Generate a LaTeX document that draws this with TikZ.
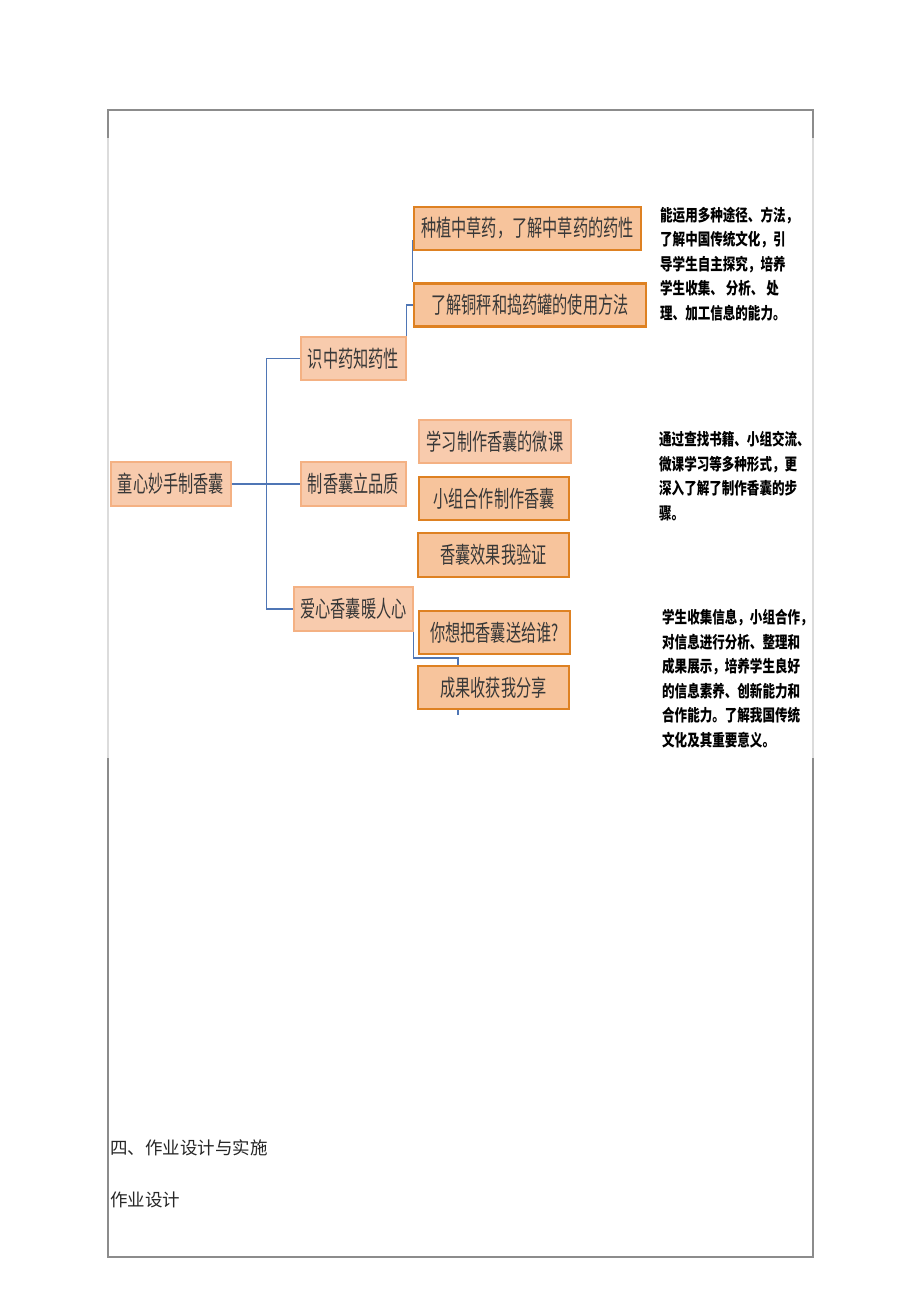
\documentclass[tikz,border=0pt]{standalone}
\usepackage{fontspec}
\usetikzlibrary{backgrounds}
\newfontfamily\boxcjk{Noto Sans CJK SC}[FakeStretch=0.66]
\newfontfamily\notecjk{Noto Sans CJK SC}[FakeStretch=0.76]
\newfontfamily\plaincjk{Noto Sans CJK SC}
\definecolor{peach}{HTML}{F8CBAD}
\definecolor{peachdk}{HTML}{F7C49C}
\definecolor{peachedge}{HTML}{F4B183}
\definecolor{orangeedge}{HTML}{DE8122}
\definecolor{linkblue}{HTML}{4F76B5}
\definecolor{framegray}{HTML}{8C8C8C}
\definecolor{framelight}{HTML}{DCDCDC}
\definecolor{txt}{HTML}{383838}
\tikzset{
  x=1pt,y=-1pt,
  boxbase/.style={rectangle,inner sep=0pt,text=txt,
    font={\boxcjk\fontsize{23}{26}\selectfont}},
  lightbox/.style={boxbase,fill=peach,draw=peachedge,line width=1.4pt},
  darkbox/.style={boxbase,fill=peachdk,draw=orangeedge,line width=2.6pt},
  link/.style={draw=linkblue,line width=1.5pt},
  note/.style={anchor=west,inner sep=0pt,align=left,text=black,
    font={\notecjk\bfseries\fontsize{16.5}{24.5}\selectfont}},
  plain/.style={anchor=west,inner sep=0pt,text=black!85,
    font={\plaincjk\fontsize{17.5}{20}\selectfont}},
}
\begin{document}
\begin{tikzpicture}
\useasboundingbox (0,0) rectangle (920,1302);
\begin{scope}[on background layer]
\fill[white] (0,0) rectangle (920,1302);
\end{scope}
% frame
\draw[framegray,line width=1.4pt] (108,110) -- (813,110);
\draw[framegray,line width=1.4pt] (108,1257) -- (813,1257);
\draw[framegray,line width=1.4pt] (108,109.3) -- (108,138);
\draw[framelight,line width=1.4pt] (108,138) -- (108,758);
\draw[framegray,line width=1.4pt] (108,758) -- (108,1257.7);
\draw[framegray,line width=1.4pt] (813,109.3) -- (813,138);
\draw[framelight,line width=1.4pt] (813,138) -- (813,758);
\draw[framegray,line width=1.4pt] (813,758) -- (813,1257.7);

% nodes
\node[lightbox,minimum width=120,minimum height=44] (root) at (171,484) {童心妙手制香囊};
\node[lightbox,minimum width=105,minimum height=43] (a) at (353.5,358.5) {识中药知药性};
\node[lightbox,minimum width=105,minimum height=44] (b) at (353.5,484) {制香囊立品质};
\node[lightbox,minimum width=119,minimum height=44] (c) at (353.5,609) {爱心香囊暖人心};

\node[darkbox,minimum width=227,minimum height=43] (a1) at (527.5,228.5) {种植中草药，了解中草药的药性};
\node[darkbox,minimum width=232,minimum height=43] (a2) at (530,305) {了解铜秤和捣药罐的使用方法};

\node[lightbox,minimum width=152,minimum height=43] (b1) at (495,441.5) {学习制作香囊的微课};
\node[darkbox,minimum width=150,minimum height=43] (b2) at (494,498.5) {小组合作制作香囊};
\node[darkbox,minimum width=151,minimum height=44] (b3) at (493.5,555) {香囊效果我验证};

\node[darkbox,minimum width=151,minimum height=43] (c1) at (494.5,632.5) {你想把香囊送给谁?};
\node[darkbox,minimum width=151,minimum height=43] (c2) at (493.5,687.5) {成果收获我分享};

% connectors
\coordinate (spine) at (266.5,0);
\coordinate (cturn) at (458,658);
\coordinate (cend) at (458,715);
\begin{scope}[on background layer]
\draw[link] (root.east) -- (b.west);
\draw[link] (a.west) -- (a.west -| spine) -- (c.west -| spine) -- (c.west);
\draw[link] (a.north east) |- (a2.west);
\draw[link] ([yshift=-11.5pt]a1.west) -- (a2.north west);
\draw[link] (c.south east) |- (cturn) -- (cend);
\end{scope}

% notes
\node[note] (n1) at (660,264) {能运用多种途径、方法，\\了解中国传统文化，引\\导学生自主探究，培养\\学生收集、 分析、 处\\理、加工信息的能力。};
\node[note] (n2) at (659,476) {通过查找书籍、小组交流、\\微课学习等多种形式，更\\深入了解了制作香囊的步\\骤。};
\node[note] (n3) at (662,678.5) {学生收集信息，小组合作，\\对信息进行分析、整理和\\成果展示，培养学生良好\\的信息素养、创新能力和\\合作能力。了解我国传统\\文化及其重要意义。};

% bottom text
\node[plain] (t1) at (110,1148) {四、作业设计与实施};
\node[plain] (t2) at (110,1200) {作业设计};
\end{tikzpicture}
\end{document}
